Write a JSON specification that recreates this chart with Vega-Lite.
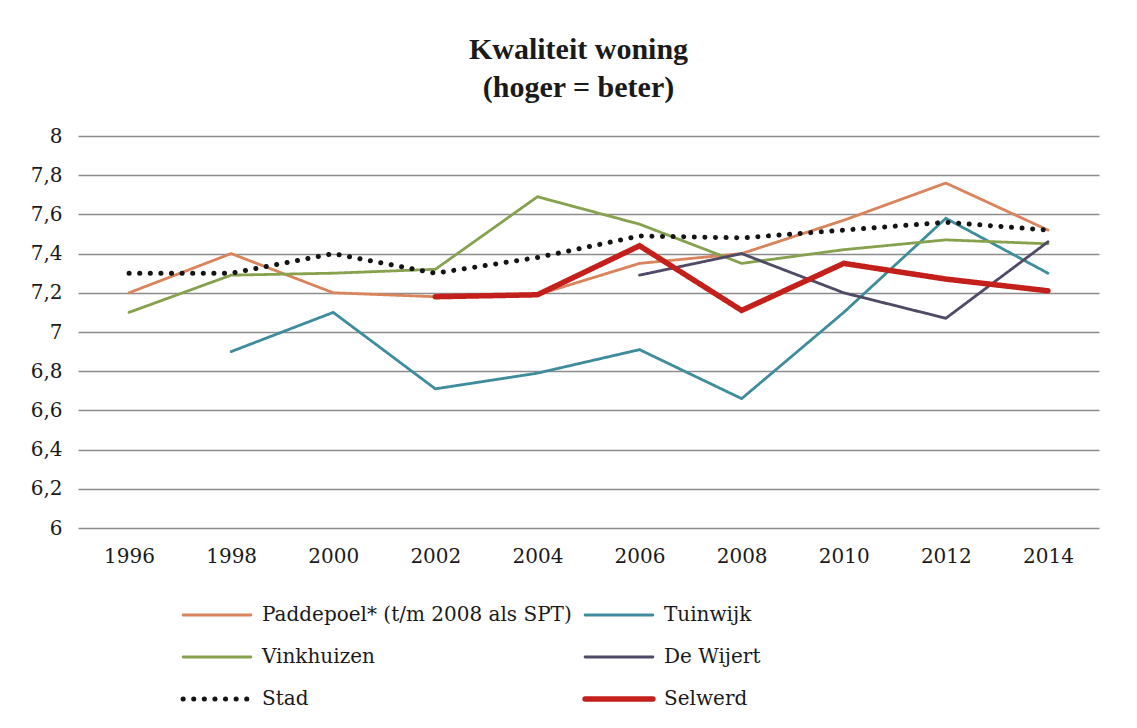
{
  "$schema": "https://vega.github.io/schema/vega-lite/v6.json",
  "autosize": {"type": "none"},
  "width": 1021,
  "height": 392,
  "padding": {"left": 78, "top": 136, "right": 38, "bottom": 200},
  "background": "white",
  "config": {"view": {"stroke": null}},
  "title": {
    "text": ["Kwaliteit woning", "(hoger = beter)"],
    "font": "Liberation Serif",
    "fontWeight": "bold",
    "fontSize": 30,
    "lineHeight": 38,
    "color": "#1a1a1a",
    "anchor": "middle",
    "dx": -10,
    "offset": 23
  },
  "data": {
    "values": [
      {"jaar": "1996", "wijk": "Paddepoel* (t/m 2008 als SPT)", "waarde": 7.2},
      {"jaar": "1998", "wijk": "Paddepoel* (t/m 2008 als SPT)", "waarde": 7.4},
      {"jaar": "2000", "wijk": "Paddepoel* (t/m 2008 als SPT)", "waarde": 7.2},
      {"jaar": "2002", "wijk": "Paddepoel* (t/m 2008 als SPT)", "waarde": 7.18},
      {"jaar": "2004", "wijk": "Paddepoel* (t/m 2008 als SPT)", "waarde": 7.19},
      {"jaar": "2006", "wijk": "Paddepoel* (t/m 2008 als SPT)", "waarde": 7.35},
      {"jaar": "2008", "wijk": "Paddepoel* (t/m 2008 als SPT)", "waarde": 7.4},
      {"jaar": "2010", "wijk": "Paddepoel* (t/m 2008 als SPT)", "waarde": 7.57},
      {"jaar": "2012", "wijk": "Paddepoel* (t/m 2008 als SPT)", "waarde": 7.76},
      {"jaar": "2014", "wijk": "Paddepoel* (t/m 2008 als SPT)", "waarde": 7.52},
      {"jaar": "1998", "wijk": "Tuinwijk", "waarde": 6.9},
      {"jaar": "2000", "wijk": "Tuinwijk", "waarde": 7.1},
      {"jaar": "2002", "wijk": "Tuinwijk", "waarde": 6.71},
      {"jaar": "2004", "wijk": "Tuinwijk", "waarde": 6.79},
      {"jaar": "2006", "wijk": "Tuinwijk", "waarde": 6.91},
      {"jaar": "2008", "wijk": "Tuinwijk", "waarde": 6.66},
      {"jaar": "2010", "wijk": "Tuinwijk", "waarde": 7.1},
      {"jaar": "2012", "wijk": "Tuinwijk", "waarde": 7.58},
      {"jaar": "2014", "wijk": "Tuinwijk", "waarde": 7.3},
      {"jaar": "1996", "wijk": "Vinkhuizen", "waarde": 7.1},
      {"jaar": "1998", "wijk": "Vinkhuizen", "waarde": 7.29},
      {"jaar": "2000", "wijk": "Vinkhuizen", "waarde": 7.3},
      {"jaar": "2002", "wijk": "Vinkhuizen", "waarde": 7.32},
      {"jaar": "2004", "wijk": "Vinkhuizen", "waarde": 7.69},
      {"jaar": "2006", "wijk": "Vinkhuizen", "waarde": 7.55},
      {"jaar": "2008", "wijk": "Vinkhuizen", "waarde": 7.35},
      {"jaar": "2010", "wijk": "Vinkhuizen", "waarde": 7.42},
      {"jaar": "2012", "wijk": "Vinkhuizen", "waarde": 7.47},
      {"jaar": "2014", "wijk": "Vinkhuizen", "waarde": 7.45},
      {"jaar": "2006", "wijk": "De Wijert", "waarde": 7.29},
      {"jaar": "2008", "wijk": "De Wijert", "waarde": 7.4},
      {"jaar": "2010", "wijk": "De Wijert", "waarde": 7.2},
      {"jaar": "2012", "wijk": "De Wijert", "waarde": 7.07},
      {"jaar": "2014", "wijk": "De Wijert", "waarde": 7.46},
      {"jaar": "1996", "wijk": "Stad", "waarde": 7.3},
      {"jaar": "1998", "wijk": "Stad", "waarde": 7.3},
      {"jaar": "2000", "wijk": "Stad", "waarde": 7.4},
      {"jaar": "2002", "wijk": "Stad", "waarde": 7.3},
      {"jaar": "2004", "wijk": "Stad", "waarde": 7.38},
      {"jaar": "2006", "wijk": "Stad", "waarde": 7.49},
      {"jaar": "2008", "wijk": "Stad", "waarde": 7.48},
      {"jaar": "2010", "wijk": "Stad", "waarde": 7.52},
      {"jaar": "2012", "wijk": "Stad", "waarde": 7.56},
      {"jaar": "2014", "wijk": "Stad", "waarde": 7.52},
      {"jaar": "2002", "wijk": "Selwerd", "waarde": 7.18},
      {"jaar": "2004", "wijk": "Selwerd", "waarde": 7.19},
      {"jaar": "2006", "wijk": "Selwerd", "waarde": 7.44},
      {"jaar": "2008", "wijk": "Selwerd", "waarde": 7.11},
      {"jaar": "2010", "wijk": "Selwerd", "waarde": 7.35},
      {"jaar": "2012", "wijk": "Selwerd", "waarde": 7.27},
      {"jaar": "2014", "wijk": "Selwerd", "waarde": 7.21}
    ]
  },
  "mark": {"type": "line", "strokeCap": "round", "strokeJoin": "miter"},
  "encoding": {
    "x": {
      "field": "jaar",
      "type": "ordinal",
      "scale": {"type": "point", "padding": 0.5},
      "axis": {
        "title": null,
        "labelAngle": 0,
        "domain": false,
        "ticks": false,
        "grid": false,
        "labelFont": "DejaVu Serif",
        "labelFontSize": 20,
        "labelColor": "#1a1a1a",
        "labelPadding": 18
      }
    },
    "y": {
      "field": "waarde",
      "type": "quantitative",
      "scale": {"domain": [6, 8], "nice": false, "zero": false},
      "axis": {
        "title": null,
        "values": [6, 6.2, 6.4, 6.6, 6.8, 7, 7.2, 7.4, 7.6, 7.8, 8],
        "labelExpr": "replace(format(datum.value, '.1~f'), '.', ',')",
        "domain": false,
        "ticks": false,
        "grid": true,
        "gridColor": "#8c8c8c",
        "gridWidth": 1.5,
        "gridOpacity": 1,
        "labelFont": "DejaVu Serif",
        "labelFontSize": 20,
        "labelColor": "#1a1a1a",
        "labelPadding": 16
      }
    },
    "color": {
      "field": "wijk",
      "type": "nominal",
      "sort": ["Paddepoel* (t/m 2008 als SPT)", "Tuinwijk", "Vinkhuizen", "De Wijert", "Stad", "Selwerd"],
      "scale": {
        "domain": ["Paddepoel* (t/m 2008 als SPT)", "Tuinwijk", "Vinkhuizen", "De Wijert", "Stad", "Selwerd"],
        "range": ["#d9845c", "#3f8d9c", "#87a24f", "#4f4a66", "#141414", "#c4201b"]
      },
      "legend": {
        "title": null,
        "orient": "none",
        "legendX": 102,
        "legendY": 459,
        "columns": 2,
        "direction": "horizontal",
        "columnPadding": 10,
        "rowPadding": 2,
        "clipHeight": 40,
        "symbolType": "stroke",
        "symbolSize": 4600,
        "labelFont": "DejaVu Serif",
        "labelFontSize": 20,
        "labelColor": "#1a1a1a",
        "labelOffset": 8,
        "labelLimit": 500,
        "encode": {"symbols": {"update": {"strokeCap": {"value": "round"}}}}
      }
    },
    "strokeDash": {
      "field": "wijk",
      "type": "nominal",
      "sort": ["Paddepoel* (t/m 2008 als SPT)", "Tuinwijk", "Vinkhuizen", "De Wijert", "Stad", "Selwerd"],
      "scale": {
        "domain": ["Paddepoel* (t/m 2008 als SPT)", "Tuinwijk", "Vinkhuizen", "De Wijert", "Stad", "Selwerd"],
        "range": [[1, 0], [1, 0], [1, 0], [1, 0], [0.1, 10.5], [1, 0]]
      }
    },
    "strokeWidth": {
      "field": "wijk",
      "type": "ordinal",
      "sort": ["Paddepoel* (t/m 2008 als SPT)", "Tuinwijk", "Vinkhuizen", "De Wijert", "Stad", "Selwerd"],
      "scale": {
        "type": "ordinal",
        "domain": ["Paddepoel* (t/m 2008 als SPT)", "Tuinwijk", "Vinkhuizen", "De Wijert", "Stad", "Selwerd"],
        "range": [2.8, 2.8, 2.8, 2.8, 5, 5.5]
      }
    }
  }
}
